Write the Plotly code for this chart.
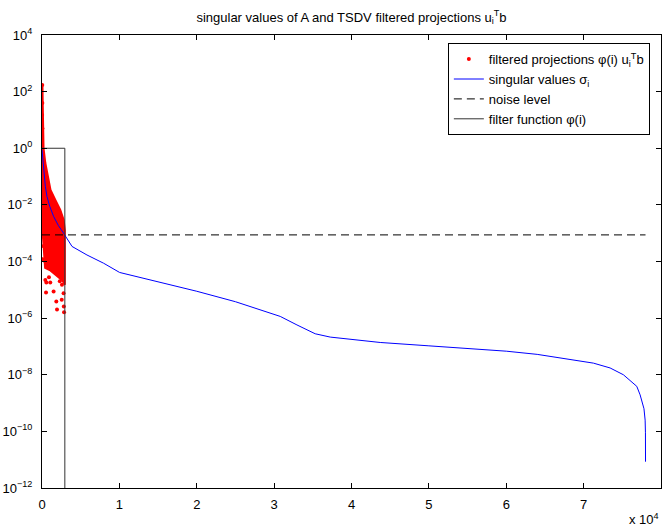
import plotly.graph_objects as go

# ---------------- data ----------------
# singular values sigma_i  (index, value)
sv_idx = [0, 130, 210, 430, 650, 1000, 1500, 2100, 2790, 3880, 5810, 7960, 10030,
          15000, 20000, 25000, 28000, 30790, 32950, 34240, 35310, 37250, 39400,
          43710, 50000, 55000, 60000, 64000, 66960, 71270, 73420, 75140, 76870,
          77300, 77800, 77950, 77990, 78000]
sv_val = [0.9, 0.32, 0.16, 4.5e-2, 1.95e-2, 8.9e-3, 3.9e-3, 1.9e-3, 1.0e-3, 3.4e-4,
          1.7e-4, 8.7e-5, 4.1e-5, 1.9e-5, 8.9e-6, 3.8e-6, 2.0e-6, 1.15e-6, 5.75e-7,
          3.9e-7, 2.8e-7, 2.14e-7, 1.82e-7, 1.38e-7, 1.05e-7, 8.5e-8, 6.8e-8, 5.25e-8,
          3.9e-8, 2.57e-8, 1.74e-8, 1.0e-8, 3.9e-9, 1.95e-9, 6.3e-10, 2.5e-10,
          8.9e-11, 8.5e-12]

# dense cloud of filtered projections (outline of the red region)
cloud_idx = [0, 60, 100, 150, 200, 430, 820, 1100, 1720, 2360, 2800, 2950,
             2950, 2950, 2600, 1700, 1000, 400, 300, 150, 0, 0]
cloud_val = [170, 170, 30, 3, 1.0, 0.3, 0.076, 0.034, 0.015, 6.6e-3, 2.95e-3, 1.3e-3,
             6e-5, 1.5e-5, 2.2e-5, 3.5e-5, 5e-5, 6e-5, 2e-4, 6e-4, 1.5e-3, 170]

# scattered (isolated) filtered projections
pts_idx = [30, 40, 20, 50, 430, 560, 520, 1070, 1500, 2580, 2790, 2550, 1850, 1940,
           2820, 2850, 200, 100, 430, 900, 2300]
pts_val = [170, 40, 15, 5, 2.2e-5, 1.8e-5, 8e-6, 1.8e-5, 8.7e-6, 1.5e-5, 7.6e-6,
           4.5e-6, 3.9e-6, 2e-6, 2.6e-6, 1.6e-6, 3.5e-4, 1.2e-4, 1.0e-4, 2.8e-5, 2.0e-5]

noise_idx = [0, 78000]
noise_val = [8.7e-4, 8.7e-4]

k_trunc = 2950
filt_idx = [0, k_trunc, k_trunc]
filt_val = [1, 1, 1e-14]

x_tickvals = [0, 10000, 20000, 30000, 40000, 50000, 60000, 70000, 80000]
x_ticktext = ["0", "1", "2", "3", "4", "5", "6", "7", "8"]
y_tickvals = [1e4, 1e2, 1e0, 1e-2, 1e-4, 1e-6, 1e-8, 1e-10, 1e-12]
y_ticktext = ["10<sup>4</sup>", "10<sup>2</sup>", "10<sup>0</sup>", "10<sup>−2</sup>",
              "10<sup>−4</sup>", "10<sup>−6</sup>", "10<sup>−8</sup>",
              "10<sup>−10</sup>", "10<sup>−12</sup>"]

FONT = "Liberation Sans, Arial, Helvetica, sans-serif"

fig = go.Figure()

fig.add_trace(go.Scatter(x=cloud_idx, y=cloud_val, mode="lines", fill="toself",
                         fillcolor="#ff0000", line=dict(color="#ff0000", width=2),
                         showlegend=False, hoverinfo="skip"))
fig.add_trace(go.Scatter(x=pts_idx, y=pts_val, mode="markers",
                         marker=dict(color="#ff0000", size=4),
                         name="filtered projections φ(i) u<sub>i</sub><sup>T</sup>b"))
fig.add_trace(go.Scatter(x=sv_idx, y=sv_val, mode="lines",
                         line=dict(color="#0000ff", width=1),
                         name="singular values σ<sub>i</sub>"))
fig.add_trace(go.Scatter(x=noise_idx, y=noise_val, mode="lines",
                         line=dict(color="#000000", width=1, dash="8px,5px"),
                         name="noise level"))
fig.add_trace(go.Scatter(x=filt_idx, y=filt_val, mode="lines",
                         line=dict(color="#333333", width=1),
                         name="filter function φ(i)"))

axis_common = dict(showgrid=False, zeroline=False, showline=True, linecolor="black",
                   linewidth=1, mirror="ticks", ticks="inside", ticklen=5,
                   tickcolor="black", automargin=False,
                   tickfont=dict(family=FONT, size=13, color="black"))

fig.update_xaxes(range=[0, 80000], tickvals=x_tickvals, ticktext=x_ticktext,
                 ticklabelstandoff=4, **axis_common)
fig.update_yaxes(type="log", range=[-12, 4], tickvals=y_tickvals, ticktext=y_ticktext,
                 ticklabelstandoff=6, **axis_common)

fig.update_layout(
    width=664, height=526,
    margin=dict(l=42, r=3, t=35, b=38, autoexpand=False),
    paper_bgcolor="white", plot_bgcolor="white",
    font=dict(family=FONT, size=13, color="black"),
    title=dict(text="singular values of A and TSDV filtered projections u<sub>i</sub><sup>T</sup>b",
               x=(42 + 661) / 2 / 664, xanchor="center", xref="container",
               y=1 - 17 / 526, yanchor="middle", automargin=False,
               font=dict(family=FONT, size=13, color="black")),
    legend=dict(x=0.982, xanchor="right", y=0.982, yanchor="top",
                bgcolor="white", bordercolor="black", borderwidth=1,
                font=dict(family=FONT, size=13, color="black"),
                tracegroupgap=0, itemwidth=30),
    showlegend=True,
)

fig.add_annotation(text="x 10<sup>4</sup>", xref="paper", yref="paper",
                   x=1.0, xanchor="right", y=-(519 - 488) / 453, yanchor="middle",
                   showarrow=False, font=dict(family=FONT, size=13, color="black"))

fig.write_html("out.html", config={"displayModeBar": False},
               post_script="document.body.style.margin='0';document.body.style.overflow='hidden';")
